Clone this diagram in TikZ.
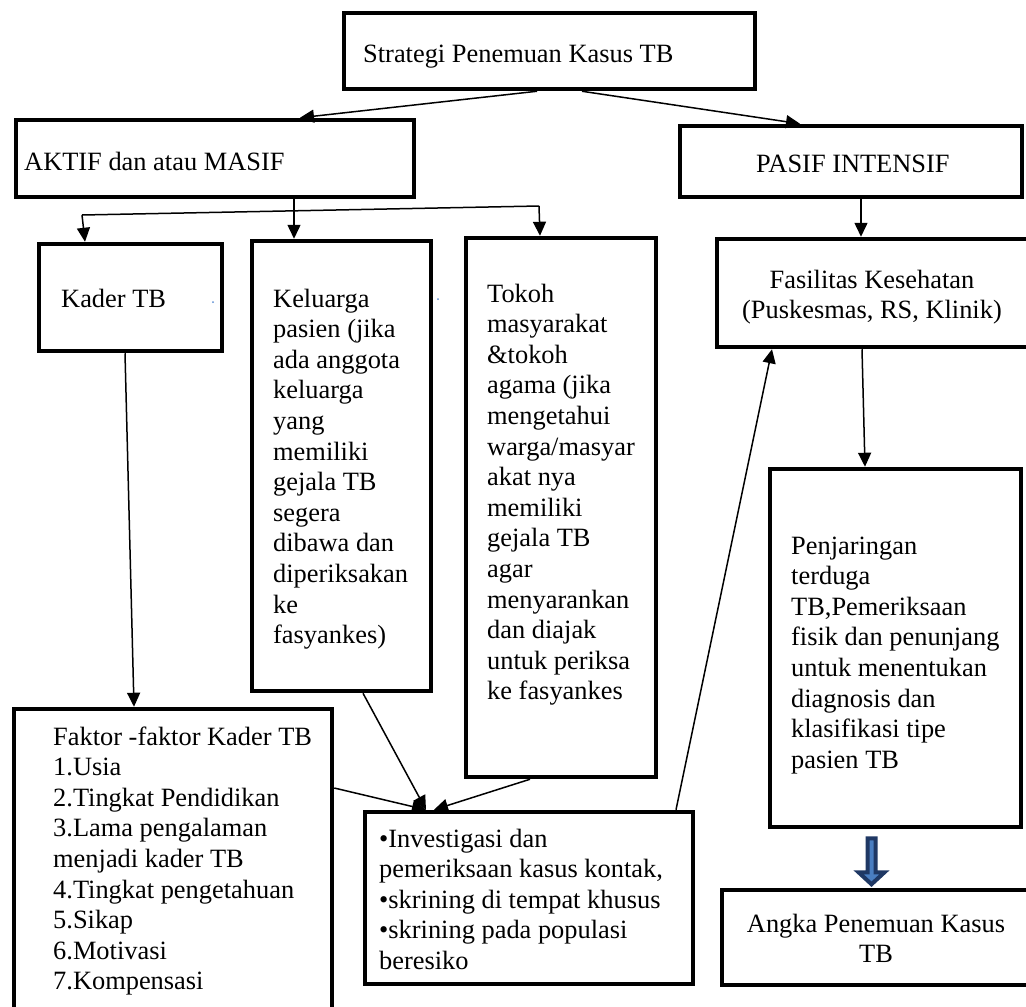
\documentclass[tikz,border=0pt]{standalone}
\usepackage{fontspec}
\setmainfont{Liberation Serif}
\usetikzlibrary{arrows.meta,calc}
\definecolor{navy}{RGB}{31,56,100}
\definecolor{lblue}{RGB}{74,126,193}
\definecolor{dotblue}{RGB}{90,140,210}
\begin{document}
\begin{tikzpicture}[x=1pt,y=-1pt,
  box/.style={draw, line width=4.5pt, inner sep=0pt, rectangle},
  lbl/.style={inner sep=0pt, font=\fontsize{26.4}{30.6}\selectfont},
  conn/.style={line width=1.5pt, -{Triangle[length=14pt,width=13pt]}},
  plain/.style={line width=1.5pt}]
\useasboundingbox (0,0) rectangle (1026,1007);
\clip (0,0) rectangle (1026,1007);

% boxes
\node[box, minimum width=411pt, minimum height=76pt] (top) at (549.5,51) {};
\node[box, minimum width=398pt, minimum height=77pt] (aktif) at (215,158.5) {};
\node[box, minimum width=342pt, minimum height=71pt] (pasif) at (851,161.5) {};
\node[box, minimum width=183pt, minimum height=107pt] (kader) at (130.5,297.5) {};
\node[box, minimum width=179pt, minimum height=450pt] (kel) at (341.5,466) {};
\node[box, minimum width=190pt, minimum height=539pt] (tokoh) at (561,507.5) {};
\node[box, minimum width=318pt, minimum height=108pt] (fas) at (876,293) {};
\node[box, minimum width=251pt, minimum height=358pt] (pen) at (895.5,648) {};
\node[box, minimum width=318pt, minimum height=311pt] (fak) at (173,864.5) {};
\node[box, minimum width=328pt, minimum height=172pt] (inv) at (529,898) {};
\node[box, minimum width=313pt, minimum height=95pt] (angka) at (878.5,937.5) {};

% texts
\node[lbl, anchor=base west] (ttop) at (363,62) {Strategi Penemuan Kasus TB};
\node[lbl, anchor=base west] (taktif) at (24,170) {AKTIF dan atau MASIF};
\node[lbl, anchor=base west] (tpasif) at (756,172) {PASIF INTENSIF};
\node[lbl, anchor=base west] (tkader) at (61,307) {Kader TB};
\node[lbl, anchor=base west] (tkel) at (273,307) {\begin{tabular}[t]{@{}l@{}}Keluarga\\pasien (jika\\ada anggota\\keluarga\\yang\\memiliki\\gejala TB\\segera\\dibawa dan\\diperiksakan\\ke\\fasyankes)\end{tabular}};
\node[lbl, anchor=base west] (ttokoh) at (487,302) {\begin{tabular}[t]{@{}l@{}}Tokoh\\masyarakat\\\&tokoh\\agama (jika\\mengetahui\\warga/masyar\\akat nya\\memiliki\\gejala TB\\agar\\menyarankan\\dan diajak\\untuk periksa\\ke fasyankes\end{tabular}};
\node[lbl, anchor=base] (tfas) at (872,288) {\begin{tabular}[t]{@{}c@{}}Fasilitas Kesehatan\\(Puskesmas, RS, Klinik)\end{tabular}};
\node[lbl, anchor=base west] (tpen) at (791,554) {\begin{tabular}[t]{@{}l@{}}Penjaringan\\terduga\\TB,Pemeriksaan\\fisik dan penunjang\\untuk menentukan\\diagnosis dan\\klasifikasi tipe\\pasien TB\end{tabular}};
\node[lbl, anchor=base west] (tfak) at (53,745) {\begin{tabular}[t]{@{}l@{}}Faktor -faktor Kader TB\\1.Usia\\2.Tingkat Pendidikan\\3.Lama pengalaman\\menjadi kader TB\\4.Tingkat pengetahuan\\5.Sikap\\6.Motivasi\\7.Kompensasi\end{tabular}};
\node[lbl, anchor=base west] (tinv) at (379,847) {\begin{tabular}[t]{@{}l@{}}•Investigasi dan\\pemeriksaan kasus kontak,\\•skrining di tempat khusus\\•skrining pada populasi\\beresiko\end{tabular}};
\node[lbl, anchor=base] (tangka) at (876,932) {\begin{tabular}[t]{@{}c@{}}Angka Penemuan Kasus\\TB\end{tabular}};

% branch coordinates
\coordinate (bl) at (82,215);
\coordinate (br) at (539,206);

% connectors
\draw[conn] ([xshift=-12.5pt]top.south) -- ([xshift=85pt]aktif.north);
\draw[conn] ([xshift=32.5pt]top.south) -- ([xshift=-51pt]pasif.north);
\draw[conn] ([xshift=79pt]aktif.south) -- ([xshift=-47.5pt]kel.north);
\draw[plain] (bl) -- (br);
\draw[conn] (bl) -- ([xshift=-45.5pt]kader.north);
\draw[conn] (br) -- ([xshift=-21pt]tokoh.north);
\draw[conn] ([xshift=10pt]pasif.south) -- ([xshift=-15pt]fas.north);
\draw[conn] ([xshift=-14pt]fas.south) -- ([xshift=-30.5pt]pen.north);
\draw[conn] ([xshift=-5.5pt]kader.south) -- ([xshift=-39pt]fak.north);
\draw[conn] ([xshift=21.5pt]kel.south) -- ([xshift=-103pt]inv.north);
\draw[conn] ([yshift=76.5pt]fak.east) -- ([xshift=-103pt]inv.north);
\draw[conn] ([xshift=-31pt]tokoh.south) -- ([xshift=-95pt]inv.north);
\draw[conn] ([xshift=147pt]inv.north) -- ([xshift=-104pt]fas.south);

% block arrow from pen to angka
\draw[navy, line width=4pt, fill=lblue, line join=miter]
  ($(pen.south)+(-28,9)$) -- ($(pen.south)+(-20,9)$) -- ($(pen.south)+(-20,43)$)
  -- ($(pen.south)+(-11,43)$) -- ($(pen.south)+(-24,55)$) -- ($(pen.south)+(-37,43)$)
  -- ($(pen.south)+(-28,43)$) -- cycle;

% tiny marks
\fill[dotblue] (213,302) circle (1pt);
\fill[dotblue] (438,299) circle (1pt);
\end{tikzpicture}
\end{document}
